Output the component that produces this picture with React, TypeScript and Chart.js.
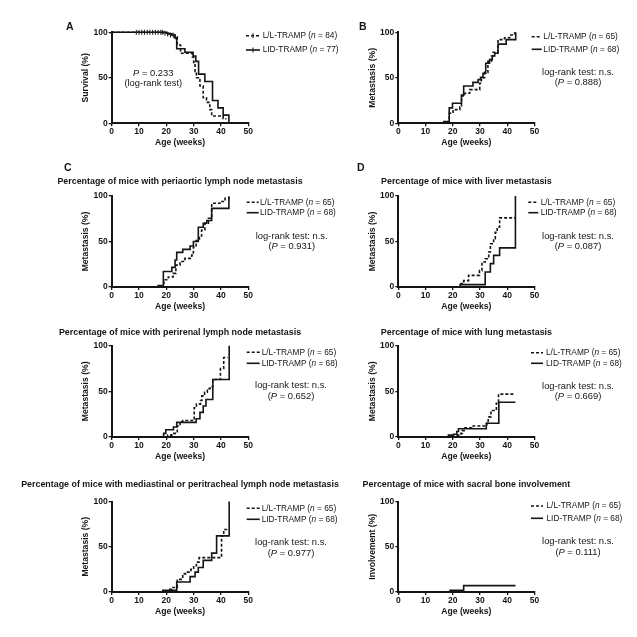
import React, { useEffect, useRef } from 'react';
import { Chart, registerables } from 'chart.js';

Chart.register(...registerables);

const FONT = "'Liberation Sans', Arial, Helvetica, sans-serif";
const INK = '#151515';

// ---------- axis ticks ----------
const xTickValues = [0, 10, 20, 30, 40, 50];
const yTickValues = [0, 50, 100];

// ---------- groups ----------
const groupLL = 'L/L-TRAMP';
const groupLID = 'LID-TRAMP';
const survivalN = [84, 77];
const metastasisN = [65, 68];

// ---------- A: survival ----------
const survLLWeeks = [0, 19, 20.5, 22, 23, 24, 25.2, 29.5, 30, 30.5, 31, 32.3, 33.5, 34.7, 35.9, 36.6, 40.8, 42];
const survLLValues = [100, 99, 98, 97, 95, 86, 77, 73, 67, 57, 50, 41, 28, 23, 15, 8, 5, 5];
const survLIDWeeks = [0, 20, 21, 22, 23, 23.8, 26.8, 29.8, 30.8, 31.8, 34.1, 36.9, 38.9, 40.8, 42.9];
const survLIDValues = [100, 99, 98, 97, 94, 82, 78, 74, 68, 54, 46, 25, 17, 9, 0];
const censorWeeks = [9, 10, 11, 12, 13, 14, 15, 16, 17, 18, 18.5, 19.5, 20.5, 21.5, 22.5, 23.3];
const censorValues = [100, 100, 100, 100, 100, 100, 100, 100, 100, 100, 100, 99, 98, 97, 97, 95];

// ---------- B: any metastasis ----------
const metLLWeeks = [0, 18.7, 20.1, 22.6, 23.2, 24.4, 26.2, 29.9, 30.5, 31.7, 32.9, 34.2, 34.8, 36.6, 39, 40.9, 42.7];
const metLLValues = [0, 11, 15, 18, 30, 33, 37, 44, 50, 56, 68, 74, 78, 92, 94, 97, 100];
const metLIDWeeks = [0, 16.7, 18.7, 19.9, 23.2, 24, 27.4, 29.3, 30.2, 31.1, 32.1, 33.5, 34.5, 35.4, 36.6, 39.6, 43.1];
const metLIDValues = [0, 2, 17, 22, 31, 41, 45, 48, 50.5, 55, 66, 70, 74, 77, 87, 92, 100];

// ---------- C: periaortic ----------
const paLLWeeks = [0, 19.1, 20.7, 22.5, 23.5, 25, 26.8, 29.3, 29.9, 30.9, 32.1, 32.9, 34.1, 35.4, 36.6, 39.6, 41.5, 42.9];
const paLLValues = [0, 8, 11, 15, 24, 28, 31.5, 35, 44, 51, 56, 62.6, 70, 75.5, 92, 94, 97.5, 100];
const paLIDWeeks = [0, 17, 18.9, 22, 23.2, 23.8, 26, 28.7, 29.9, 31.7, 33.5, 34.8, 36.6, 42.9];
const paLIDValues = [0, 1.5, 17, 21.6, 29.7, 38, 41.4, 45, 50, 65.6, 70, 73, 86.4, 99];

// ---------- D: liver ----------
const livLLWeeks = [0, 23, 24, 25.8, 29.8, 30.7, 31.9, 33.2, 33.8, 35, 35.6, 36.3, 37.2, 43];
const livLLValues = [0, 3.7, 7, 12.8, 18, 27.5, 31, 38.5, 47.6, 53, 60, 66, 76, 76];
const livLIDWeeks = [0, 22.7, 31.9, 33.8, 35, 37.2, 43];
const livLIDValues = [0, 2.6, 16.5, 25.7, 34.8, 43, 100];

// ---------- perirenal ----------
const prLLWeeks = [0, 20.5, 22, 24, 25, 26, 30.2, 31, 32.5, 33, 34, 35, 36, 37, 39.8, 41, 42.5];
const prLLValues = [0, 2, 4, 12, 17, 18, 32, 36, 40, 45, 49, 53, 55, 63, 75, 87, 87];
const prLIDWeeks = [0, 19, 19.8, 22.6, 23.8, 30.9, 32.3, 33.5, 34.5, 37, 43];
const prLIDValues = [0, 4, 8, 11, 16, 20, 27, 34, 41, 63, 100];

// ---------- lung ----------
const luLLWeeks = [0, 21.5, 23, 23.5, 24.5, 27, 32.5, 33, 34, 36, 36.8, 43];
const luLLValues = [0, 2, 4, 7, 10, 12, 15, 22, 29, 37, 47, 47];
const luLIDWeeks = [0, 18.4, 20.3, 21.5, 22.1, 32.3, 36.9, 43];
const luLIDValues = [0, 2, 3, 6, 9, 15, 38, 38];

// ---------- mediastinal / peritracheal ----------
const mdLLWeeks = [0, 20.5, 22, 24, 26, 27, 29, 30, 31, 32, 40.2, 41, 43];
const mdLLValues = [0, 3, 5, 14, 20, 22, 25, 29, 33, 38, 62, 69, 69];
const mdLIDWeeks = [0, 18.7, 23.8, 28.7, 30.5, 31.7, 33.5, 36.6, 38.4, 43];
const mdLIDValues = [0, 2, 11, 17, 22, 27, 35, 43, 62, 100];

// ---------- sacral bone ----------
const scLLWeeks = [0, 43];
const scLLValues = [0, 0];
const scLIDWeeks = [0, 19, 24, 43];
const scLIDValues = [0, 2, 7, 7];

// ---------- texts ----------
const panelLetters = ['A', 'B', 'C', 'D', '', '', '', ''];
const panelTitles = [
  '',
  '',
  'Percentage of mice with periaortic lymph node metastasis',
  'Percentage of mice with liver metastasis',
  'Percentage of mice with perirenal lymph node metastasis',
  'Percentage of mice with lung metastasis',
  'Percentage of mice with mediastinal or peritracheal lymph node metastasis',
  'Percentage of mice with sacral bone involvement',
];
const yAxisTitles = [
  'Survival (%)', 'Metastasis (%)', 'Metastasis (%)', 'Metastasis (%)',
  'Metastasis (%)', 'Metastasis (%)', 'Metastasis (%)', 'Involvement (%)',
];
const xAxisTitle = 'Age (weeks)';
const pValues = ['0.233', '0.888', '0.931', '0.087', '0.652', '0.669', '0.977', '0.111'];

const seriesLL = [
  [survLLWeeks, survLLValues], [metLLWeeks, metLLValues], [paLLWeeks, paLLValues], [livLLWeeks, livLLValues],
  [prLLWeeks, prLLValues], [luLLWeeks, luLLValues], [mdLLWeeks, mdLLValues], [scLLWeeks, scLLValues],
];
const seriesLID = [
  [survLIDWeeks, survLIDValues], [metLIDWeeks, metLIDValues], [paLIDWeeks, paLIDValues], [livLIDWeeks, livLIDValues],
  [prLIDWeeks, prLIDValues], [luLIDWeeks, luLIDValues], [mdLIDWeeks, mdLIDValues], [scLIDWeeks, scLIDValues],
];

// ---------- layout (page pixels) ----------
const COLS = [
  { PL: 111.7, PR: 248.3, yTitleX: 86, cx: 20, cw: 320 },
  { PL: 398.3, PR: 534.5, yTitleX: 372.3, cx: 340, cw: 297 },
];
const ROWS = [
  { PT: 32.3, PB: 123.3, cy: 0, ch: 153 },
  { PT: 196, PB: 287, cy: 160, ch: 157 },
  { PT: 345.7, PB: 437, cy: 309, ch: 158 },
  { PT: 501.5, PB: 592, cy: 465, ch: 157 },
];
const LAYOUT = [
  { col: 0, row: 0, letter: [66, 29.5], titleY: 0, leg: [246, 14, 262.7, 35.7, 50], ann: [153.3, 73.3, 83.3] },
  { col: 1, row: 0, letter: [359, 29.5], titleY: 0, leg: [531.7, 10, 543.3, 36.7, 49.3], ann: [578, 72.3, 82.7] },
  { col: 0, row: 1, letter: [64, 171], titleY: 182, leg: [246.7, 12, 260, 202.3, 212.7], ann: [291.7, 236, 246.7] },
  { col: 1, row: 1, letter: [357, 171], titleY: 182, leg: [528.3, 10, 540.7, 202.3, 212.7], ann: [578, 236, 246.7] },
  { col: 0, row: 2, letter: [0, 0], titleY: 333, leg: [246.7, 13, 261.7, 352.3, 363.3], ann: [291, 385.7, 396.7] },
  { col: 1, row: 2, letter: [0, 0], titleY: 333, leg: [531, 12, 546, 352.7, 363.3], ann: [578, 386.7, 396.7] },
  { col: 0, row: 3, letter: [0, 0], titleY: 485, leg: [246.7, 13, 261.7, 508.3, 519.3], ann: [291, 542.3, 553.3] },
  { col: 1, row: 3, letter: [0, 0], titleY: 485, leg: [531, 12, 546.5, 506, 518.3], ann: [578, 541.7, 552.3] },
];

const TICK_SIZE = 8.5;
const AXIS_SIZE = 8.6;
const TITLE_SIZE = 8.9;
const LEGEND_SIZE = 8.3;
const ANN_SIZE = 9.4;
const LETTER_SIZE = 10.5;

type Part = { t: string; i?: boolean };

function drawParts(ctx: CanvasRenderingContext2D, parts: Part[], x: number, y: number, size: number, align: 'left' | 'center') {
  const fontFor = (it?: boolean) => `${it ? 'italic ' : ''}${size}px ${FONT}`;
  let total = 0;
  for (const p of parts) {
    ctx.font = fontFor(p.i);
    total += ctx.measureText(p.t).width;
  }
  let px = align === 'center' ? x - total / 2 : x;
  ctx.textAlign = 'left';
  ctx.textBaseline = 'middle';
  for (const p of parts) {
    ctx.font = fontFor(p.i);
    ctx.fillText(p.t, px, y);
    px += ctx.measureText(p.t).width;
  }
}

function Panel({ idx }: { idx: number }) {
  const ref = useRef<HTMLCanvasElement>(null);
  const L = LAYOUT[idx];
  const col = COLS[L.col];
  const row = ROWS[L.row];

  useEffect(() => {
    const lh = AXIS_SIZE * 1.2;
    const padLeft = col.yTitleX - col.cx - lh / 2;
    const yw = col.PL - col.cx - padLeft;
    const xh = 19.4 + lh / 2;
    const ox = col.cx;
    const oy = row.cy;
    const isSurv = idx === 0;
    const ns = isSurv ? survivalN : metastasisN;

    const textPlugin = {
      id: 'panelText' + idx,
      afterDraw(chart: any) {
        const ctx: CanvasRenderingContext2D = chart.ctx;
        const area = chart.chartArea;
        ctx.save();
        ctx.fillStyle = INK;
        ctx.strokeStyle = INK;
        if (panelLetters[idx]) {
          ctx.font = `bold ${LETTER_SIZE}px ${FONT}`;
          ctx.textAlign = 'left';
          ctx.textBaseline = 'alphabetic';
          ctx.fillText(panelLetters[idx], L.letter[0] - ox, L.letter[1] - oy);
        }
        if (panelTitles[idx]) {
          ctx.font = `bold ${TITLE_SIZE}px ${FONT}`;
          ctx.textAlign = 'center';
          ctx.textBaseline = 'middle';
          ctx.fillText(panelTitles[idx], (area.left + area.right) / 2, L.titleY - oy);
        }
        const [lx, llen, tx, y1, y2] = L.leg;
        const rowsLeg = [
          { y: y1, dash: [3, 2], label: groupLL, n: ns[0] },
          { y: y2, dash: [] as number[], label: groupLID, n: ns[1] },
        ];
        for (const r of rowsLeg) {
          ctx.beginPath();
          ctx.setLineDash(r.dash);
          ctx.lineWidth = 1.6;
          ctx.moveTo(lx - ox, r.y - oy);
          ctx.lineTo(lx + llen - ox, r.y - oy);
          ctx.stroke();
          ctx.setLineDash([]);
          if (isSurv) {
            ctx.lineWidth = 1;
            ctx.beginPath();
            ctx.moveTo(lx + llen / 2 - ox, r.y - 2.5 - oy);
            ctx.lineTo(lx + llen / 2 - ox, r.y + 2.5 - oy);
            ctx.stroke();
          }
          drawParts(ctx, [{ t: r.label + ' (' }, { t: 'n', i: true }, { t: ' = ' + r.n + ')' }], tx - ox, r.y - oy, LEGEND_SIZE, 'left');
        }
        const [ax, a1, a2] = L.ann;
        if (isSurv) {
          drawParts(ctx, [{ t: 'P', i: true }, { t: ' = ' + pValues[idx] }], ax - ox, a1 - oy, ANN_SIZE, 'center');
          drawParts(ctx, [{ t: '(log-rank test)' }], ax - ox, a2 - oy, ANN_SIZE, 'center');
        } else {
          drawParts(ctx, [{ t: 'log-rank test: n.s.' }], ax - ox, a1 - oy, ANN_SIZE, 'center');
          drawParts(ctx, [{ t: '(' }, { t: 'P', i: true }, { t: ' = ' + pValues[idx] + ')' }], ax - ox, a2 - oy, ANN_SIZE, 'center');
        }
        ctx.restore();
      },
    };

    const toPts = (w: number[], v: number[]) => w.map((x, i) => ({ x, y: v[i] }));
    const datasets: any[] = [
      {
        type: 'line',
        data: toPts(seriesLL[idx][0], seriesLL[idx][1]),
        stepped: 'before',
        borderColor: INK,
        borderWidth: 1.6,
        borderDash: [3, 2],
        pointRadius: 0,
        fill: false,
        clip: false,
      },
      {
        type: 'line',
        data: toPts(seriesLID[idx][0], seriesLID[idx][1]),
        stepped: 'before',
        borderColor: INK,
        borderWidth: 1.6,
        pointRadius: 0,
        fill: false,
        clip: false,
      },
    ];
    if (isSurv) {
      datasets.push({
        type: 'scatter',
        data: toPts(censorWeeks, censorValues),
        showLine: false,
        pointStyle: 'line',
        rotation: 90,
        pointRadius: 2.5,
        borderWidth: 1,
        borderColor: INK,
        backgroundColor: INK,
        clip: false,
      });
    }

    const tickFont = { family: FONT, size: TICK_SIZE, weight: 'bold' as const };
    const titleFont = { family: FONT, size: AXIS_SIZE, weight: 'bold' as const, lineHeight: 1.2 };

    const chart = new Chart(ref.current!, {
      type: 'line',
      data: { datasets },
      options: {
        animation: false,
        responsive: false,
        maintainAspectRatio: false,
        events: [],
        layout: {
          padding: {
            left: padLeft,
            right: col.cx + col.cw - col.PR,
            top: row.PT - row.cy,
            bottom: row.cy + row.ch - row.PB - xh,
          },
        },
        plugins: { legend: { display: false }, tooltip: { enabled: false }, title: { display: false } },
        scales: {
          x: {
            type: 'linear',
            min: 0,
            max: 50,
            afterBuildTicks: (s: any) => { s.ticks = xTickValues.map((value) => ({ value })); },
            afterFit: (s: any) => { s.height = xh; },
            ticks: { font: tickFont, color: INK, padding: 0.5, maxRotation: 0, autoSkip: false },
            grid: { display: true, drawOnChartArea: false, drawTicks: true, tickLength: 3, color: INK, lineWidth: 1.3 },
            border: { display: true, color: INK, width: 2 },
            title: { display: true, text: xAxisTitle, font: titleFont, color: INK, padding: 0 },
          },
          y: {
            type: 'linear',
            min: 0,
            max: 100,
            afterBuildTicks: (s: any) => { s.ticks = yTickValues.map((value) => ({ value })); },
            afterFit: (s: any) => { s.width = yw; },
            ticks: { font: tickFont, color: INK, padding: 1, autoSkip: false },
            grid: { display: true, drawOnChartArea: false, drawTicks: true, tickLength: 3, color: INK, lineWidth: 1.3 },
            border: { display: true, color: INK, width: 2 },
            title: { display: true, text: yAxisTitles[idx], font: titleFont, color: INK, padding: 0 },
          },
        },
      },
      plugins: [textPlugin],
    } as any);
    return () => chart.destroy();
  }, []);

  return (
    <canvas
      ref={ref}
      width={col.cw}
      height={row.ch}
      style={{ position: 'absolute', left: col.cx, top: row.cy, width: col.cw, height: row.ch }}
    />
  );
}

export default function App() {
  return (
    <div style={{ position: 'absolute', left: 0, top: 0, width: 637, height: 637, background: '#fff', overflow: 'hidden' }}>
      {LAYOUT.map((_, i) => (
        <Panel key={i} idx={i} />
      ))}
    </div>
  );
}
